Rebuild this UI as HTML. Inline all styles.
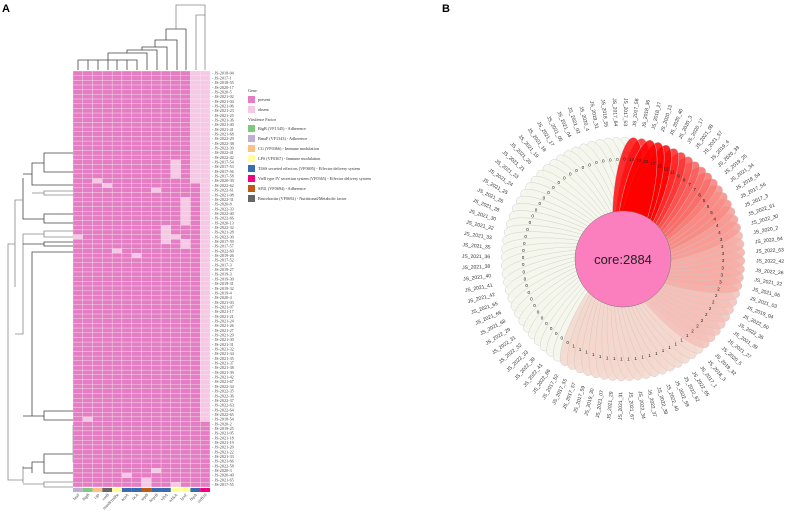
<!DOCTYPE html>
<html><head><meta charset="utf-8">
<style>
html,body{margin:0;padding:0;background:#fff;}
svg{display:block;}
.serif{font-family:"Liberation Serif",serif;}
.sans{font-family:"Liberation Sans",sans-serif;}
</style></head>
<body>
<svg id="fig" width="786" height="513" viewBox="0 0 786 513">
  <text x="2" y="12" class="sans" font-size="11" font-weight="bold">A</text>
  <text x="442" y="12" class="sans" font-size="11" font-weight="bold">B</text>
  <g id="heatmap"></g>
  <g id="rowlabels"></g>
  <g id="collabels"></g>
  <g id="dendro" stroke="#444" stroke-width="0.8" fill="none">
    <path d="M73 153H44V172H73M44 163H32V185H73M32 174H23" />
    <path d="M73 191H44V195H73M44 193H32" stroke="#888"/>
    <path d="M73 214H44V223H73M44 219H23V178" />
    <path d="M23 200H15V287" stroke="#888"/>
    <path d="M73 231H44V237H73M44 234H23V334H15" stroke="#888"/>
    <path d="M73 242H44V246H73M44 244H23" />
    <path d="M73 252H32V416H23M32 416H44M73 411H44V420H73" />
    <path d="M15 244H8V480H23M23 466V483" stroke="#888"/>
    <path d="M73 454H44V473H73M44 462H32V473M32 468H23" />
    <path d="M73 482H44V487H73M44 484H23" stroke="#888"/>
    <path d="M73 425V462" stroke="#aaa"/>
    <path d="M78 70V60H137V70M88 70V60M98 70V60M108 70V60M117 70V60M127 70V60" />
    <path d="M108 60V53H147V70M127 53V50H157V70M142 50V47H167V70M155 47V40H177V70M166 40V29H186V70" />
    <path d="M176 29V5H205V70M196 70V15H205" stroke="#888"/>
  </g>
  <g id="legend" class="serif" font-size="4.2" fill="#333"></g>
  <g id="flower"></g>
</svg>
<script>
const NS="http://www.w3.org/2000/svg";
const genes=["btaF","bigB","cgs","cmB","manB/rmlbe","acpA","ricA","sepB","beprB","vjbA","wbkA","lpxE","btpA","virB10"];
const geneColors=["#beaed4","#7fc97f","#fdc086","#666666","#ffff99","#386cb0","#386cb0","#bf5b17","#386cb0","#386cb0","#ffff99","#ffff99","#386cb0","#f0027f"];
const strains=["JS-2018-04","JS-2017-1","JS-2018-55","JS-2020-17","JS-2020-5","JS-2021-02","JS-2021-04","JS-2021-06","JS-2021-23","JS-2021-25","JS-2021-36","JS-2021-40","JS-2021-41","JS-2021-68","JS-2022-29","JS-2022-38","JS-2022-39","JS-2022-41","JS-2022-42","JS-2017-54","JS-2017-53","JS-2017-56","JS-2017-58","JS-2020-39","JS-2022-62","JS-2022-61","JS-2021-08","JS-2022-31","JS-2020-8","JS-2022-33","JS-2022-40","JS-2022-66","JS-2020-13","JS-2022-32","JS-2021-28","JS-2022-30","JS-2017-59","JS-2017-57","JS-2022-60","JS-2019-26","JS-2017-52","JS-2017-3","JS-2019-27","JS-2019-3","JS-2019-30","JS-2019-31","JS-2019-32","JS-2019-4","JS-2020-4","JS-2021-03","JS-2021-07","JS-2021-17","JS-2021-21","JS-2021-24","JS-2021-26","JS-2021-27","JS-2021-29","JS-2021-30","JS-2021-31","JS-2021-32","JS-2021-34","JS-2021-35","JS-2021-37","JS-2021-38","JS-2021-39","JS-2021-42","JS-2021-67","JS-2022-34","JS-2022-35","JS-2022-36","JS-2022-37","JS-2022-63","JS-2022-64","JS-2022-65","JS-2018-54","JS-2020-2","JS-2019-25","JS-2021-05","JS-2021-18","JS-2021-19","JS-2021-20","JS-2021-22","JS-2021-33","JS-2021-66","JS-2022-58","JS-2020-3","JS-2020-40","JS-2021-65","JS-2017-55"];
const presence=[
"11111111111100","11111111111100","11111111111100","11111111111100","11111111111100",
"11111111111100","11111111111100","11111111111100","11111111111100","11111111111100",
"11111111111100","11111111111100","11111111111100","11111111111100","11111111111100",
"11111111111100","11111111111100","11111111111100","11111111111100","11111111110100",
"11111111110100","11111111110100","11111111110100","11011111111100","11101111111110",
"11111111011110","11111111111110","11111111111010","11111111111010","11111111111010",
"11111111111010","11111111111010","11111111111010","11111111101110","11111111101110",
"01111111100110","11111111101010","11111111111010","11110111111110","11111101111110",
"11111111111110","11111111111110","11111111111110","11111111111110","11111111111110",
"11111111111110","11111111111110","11111111111110","11111111111110","11111111111110",
"11111111111110","11111111111110","11111111111110","11111111111110","11111111111110",
"11111111111110","11111111111110","11111111111110","11111111111110","11111111111110",
"11111111111110","11111111111110","11111111111110","11111111111110","11111111111110",
"11111111111110","11111111111110","11111111111110","11111111111110","11111111111110",
"11111111111110","11111111111110","11111111111110","11111111111110","10111111111110",
"11111111111111","11111111111111","11111111111111","11111111111111","11111111111111",
"11111111111111","11111111111111","11111111111111","11111111111111","11111111111111",
"11111111011111","11111011111111","11111110111111","11111110110111"];
const flowerLabels=["JS_2017_58","JS_2018_36","JS_2018_27","JS_2020_13","JS_2020_40","JS_2020_3","JS_2020_17","JS_2021_08","JS_2021_57","JS_2019_4","JS_2020_39","JS_2019_25","JS_2021_34","JS_2018_54","JS_2017_56","JS_2017_3","JS_2022_61","JS_2022_30","JS_2020_2","JS_2022_64","JS_2022_63","JS_2022_42","JS_2022_36","JS_2021_22","JS_2021_06","JS_2021_03","JS_2019_04","JS_2022_60","JS_2022_35","JS_2021_39","JS_2021_27","JS_2020_5","JS_2019_32","JS_2018_3","JS_2017_1","JS_2022_65","JS_2022_62","JS_2022_59","JS_2022_40","JS_2022_38","JS_2022_37","JS_2022_34","JS_2021_67","JS_2021_31","JS_2021_29","JS_2021_07","JS_2019_30","JS_2017_59","JS_2017_57","JS_2017_55","JS_2017_52","JS_2022_66","JS_2022_41","JS_2022_39","JS_2022_33","JS_2022_32","JS_2022_31","JS_2022_29","JS_2021_68","JS_2021_66","JS_2021_65","JS_2021_42","JS_2021_41","JS_2021_40","JS_2021_38","JS_2021_36","JS_2021_35","JS_2021_33","JS_2021_32","JS_2021_30","JS_2021_28","JS_2021_26","JS_2021_25","JS_2021_24","JS_2021_23","JS_2021_21","JS_2021_20","JS_2021_19","JS_2021_18","JS_2021_17","JS_2021_05","JS_2021_04","JS_2021_02","JS_2020_4","JS_2019_31","JS_2018_55","JS_2017_64","JS_2017_53"];
const flowerValues=[14,12,20,17,15,12,11,9,8,7,7,6,5,5,5,4,4,4,3,3,3,3,3,3,3,2,2,2,2,2,2,2,2,1,1,1,1,1,1,1,1,1,1,1,1,1,1,1,1,1,1,0,0,0,0,0,0,0,0,0,0,0,0,0,0,0,0,0,0,0,0,0,0,0,0,0,0,0,0,0,0,0,0,0,0,0,0,0];
const coreCount=2884;

const hm=document.getElementById('heatmap');
const hmX0=73,hmX1=210,hmY0=71,hmY1=487;
const cw=(hmX1-hmX0)/genes.length, rh=(hmY1-hmY0)/strains.length;
function xCol(c){return hmX0+c*cw;}
function yRow(r){return hmY0+r*rh;}
presence.forEach((row,r)=>{
  for(let c=0;c<row.length;c++){
    const el=document.createElementNS(NS,'rect');
    el.setAttribute('x',xCol(c));el.setAttribute('y',yRow(r));
    el.setAttribute('width',cw);el.setAttribute('height',rh);
    el.setAttribute('fill',row[c]==='1'?'#e57dc4':'#f5c9e4');
    el.setAttribute('stroke','#f7e6f1');el.setAttribute('stroke-width','0.35');
    
    
    hm.appendChild(el);
  }
});
genes.forEach((g,c)=>{
  const el=document.createElementNS(NS,'rect');
  el.setAttribute('x',xCol(c));el.setAttribute('y',hmY1+1);
  el.setAttribute('width',cw);el.setAttribute('height',4);
  el.setAttribute('fill',geneColors[c]);
  
  
  hm.appendChild(el);
});
const rl=document.getElementById('rowlabels');
strains.forEach((s,r)=>{
  const t=document.createElementNS(NS,'text');
  t.setAttribute('x',hmX1+2);t.setAttribute('y',yRow(r)+rh*0.8);
  t.setAttribute('font-size','4.2');t.setAttribute('class','serif');t.setAttribute('fill','#444');
  t.textContent='- '+s;
  
  
  rl.appendChild(t);
});
const cl=document.getElementById('collabels');
genes.forEach((g,c)=>{
  const t=document.createElementNS(NS,'text');
  const x=xCol(c)+cw/2+2,y=hmY1+8;
  t.setAttribute('x',x);t.setAttribute('y',y);
  t.setAttribute('text-anchor','end');t.setAttribute('font-size','4.2');t.setAttribute('class','serif');t.setAttribute('fill','#444');
  t.setAttribute('transform','rotate(-45 '+x+' '+y+')');
  t.textContent=g;
  
  
  cl.appendChild(t);
});
const lg=document.getElementById('legend');
function ltext(x,y,s,nm){const t=document.createElementNS(NS,'text');t.setAttribute('x',x);t.setAttribute('y',y);t.textContent=s;
  
  
  lg.appendChild(t);}
function lbox(y,col,nm){const b=document.createElementNS(NS,'rect');b.setAttribute('x',248);b.setAttribute('y',y);b.setAttribute('width',7);b.setAttribute('height',7);b.setAttribute('fill',col);
  
  
  lg.appendChild(b);}
ltext(248,92,'Gene','legend-gene-title');
lbox(96,'#e57dc4','legend-present-swatch');ltext(258,101,'present','legend-present-label');
lbox(106,'#f5c9e4','legend-absent-swatch');ltext(258,111,'absent','legend-absent-label');
ltext(248,121,'Virulence Factor','legend-vf-title');
const vfNames=["BigB (VF1345) - Adherence","BmaF (VF1343) - Adherence","CG (VF0366) - Immune modulation","LPS (VF0367) - Immune modulation","T4SS secreted effectors (VF0695) - Effector delivery system","VirB type IV secretion system (VF0365) - Effector delivery system","SP41 (VF0694) - Adherence","Brucebactin (VF0692) - Nutritional/Metabolic factor"];
const vfColors=["#7fc97f","#beaed4","#fdc086","#ffff99","#386cb0","#f0027f","#bf5b17","#666666"];
vfNames.forEach((n,i)=>{lbox(125+i*10,vfColors[i],'legend-vf-swatch');ltext(258,130+i*10,n,'legend-vf-label');});

const fl=document.getElementById('flower');
const cx=623,cy=259,N=flowerLabels.length,step=360/N,a0=5;
function ang(i){return a0+i*step;}
function petalColor(v){const t=Math.pow(Math.min(1,v/15),0.75);
  const r=Math.round(244+(255-244)*t),g=Math.round(247*(1-t)),b=Math.round(236*(1-t));return 'rgb('+r+','+g+','+b+')';}
const order=flowerValues.map((v,i)=>i).sort((a,b)=>flowerValues[a]-flowerValues[b]||b-a);
order.forEach(i=>{
  const e=document.createElementNS(NS,'ellipse');
  e.setAttribute('cx',cx);e.setAttribute('cy',cy-61);
  e.setAttribute('rx',15);e.setAttribute('ry',61);
  e.setAttribute('transform','rotate('+ang(i)+' '+cx+' '+cy+')');
  e.setAttribute('fill',petalColor(flowerValues[i]));e.setAttribute('fill-opacity','0.85');
  e.setAttribute('stroke','#c8c8c8');e.setAttribute('stroke-width','0.4');
  
  
  fl.appendChild(e);
});
flowerValues.forEach((v,i)=>{
  const a=ang(i)*Math.PI/180,r=100;
  const t=document.createElementNS(NS,'text');
  t.setAttribute('x',cx+r*Math.sin(a));t.setAttribute('y',cy-r*Math.cos(a)+1.6);
  t.setAttribute('text-anchor','middle');t.setAttribute('font-size','4.6');t.setAttribute('class','sans');t.setAttribute('fill','#222');
  t.textContent=v;
  
  
  fl.appendChild(t);
});
const core=document.createElementNS(NS,'circle');
core.setAttribute('cx',cx);core.setAttribute('cy',cy);core.setAttribute('r',48);
core.setAttribute('fill','#fb7fbe');core.setAttribute('stroke','#777');core.setAttribute('stroke-width','0.5');


fl.appendChild(core);
const ct=document.createElementNS(NS,'text');
ct.setAttribute('x',cx);ct.setAttribute('y',cy+5);ct.setAttribute('text-anchor','middle');
ct.setAttribute('font-size','13');ct.setAttribute('class','sans');ct.setAttribute('fill','#222');
ct.textContent='core:'+coreCount;


fl.appendChild(ct);
flowerLabels.forEach((s,i)=>{
  const deg=ang(i),a=deg*Math.PI/180,r=133;
  const x=cx+r*Math.sin(a),y=cy-r*Math.cos(a);
  const t=document.createElementNS(NS,'text');
  t.setAttribute('x',x);t.setAttribute('y',y);
  t.setAttribute('font-size','5');t.setAttribute('class','sans');t.setAttribute('fill','#333');
  t.setAttribute('dominant-baseline','middle');
  let rot;
  if(deg<180){rot=deg-90;t.setAttribute('text-anchor','start');}
  else{rot=deg+90;t.setAttribute('text-anchor','end');}
  t.setAttribute('transform','rotate('+rot+' '+x+' '+y+')');
  t.textContent=s;
  
  
  fl.appendChild(t);
});
</script>
</body></html>
